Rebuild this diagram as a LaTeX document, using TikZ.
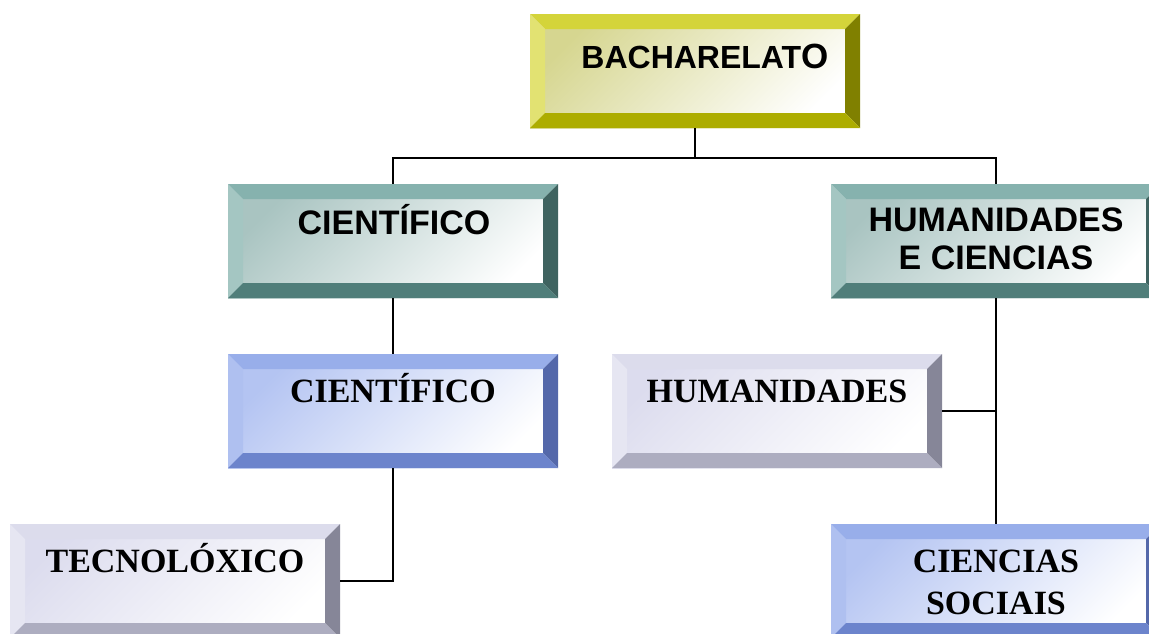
\documentclass[tikz,border=0pt]{standalone}
\usepackage{fontspec}
\setmainfont{Liberation Serif}
\setsansfont{Liberation Sans}
\usetikzlibrary{calc}
\definecolor{yelT}{HTML}{D4D43A}
\definecolor{yelL}{HTML}{E2E272}
\definecolor{yelR}{HTML}{808000}
\definecolor{yelB}{HTML}{ADAD00}
\definecolor{yelI}{HTML}{D6D690}
\definecolor{tealT}{HTML}{86B2AE}
\definecolor{tealL}{HTML}{A4C6C2}
\definecolor{tealR}{HTML}{3F6360}
\definecolor{tealB}{HTML}{507E7A}
\definecolor{tealI}{HTML}{A9C4C1}
\definecolor{bluT}{HTML}{98AEEA}
\definecolor{bluL}{HTML}{AFC0F0}
\definecolor{bluR}{HTML}{5468AA}
\definecolor{bluB}{HTML}{6C84CC}
\definecolor{bluI}{HTML}{B4C4F2}
\definecolor{grayT}{HTML}{DCDCEC}
\definecolor{grayL}{HTML}{E6E6F2}
\definecolor{grayR}{HTML}{868698}
\definecolor{grayB}{HTML}{ADADC0}
\definecolor{grayI}{HTML}{DCDCEE}

\begin{document}
\begin{tikzpicture}[x=1pt,y=-1pt,
    box/.style={minimum width=330pt,minimum height=114pt,inner sep=0pt,outer sep=0pt,
      top color=#1I,bottom color=white,shading angle=45},
    sanstext/.style={font=\sffamily\bfseries\fontsize{34}{38}\selectfont,align=center},
    seriftext/.style={font=\rmfamily\bfseries\fontsize{34}{42}\selectfont,align=center},
    oneline/.style={text height=#1,text depth=0pt},
    line/.style={line width=1.6pt}]
      \useasboundingbox (0,0) rectangle (1149,633);
      \clip (0,0) rectangle (1149,633);

      \node[box=yel] (bach) at (695,71) {};
      \node[box=teal] (cienA) at (393,241) {};
      \node[box=teal] (human) at (996,241) {};
      \node[box=blu] (cienB) at (393,411) {};
      \node[box=gray] (humB) at (777,411) {};
      \node[box=gray] (tecno) at (175,581) {};
      \node[box=blu] (socia) at (996,581) {};

      \foreach \n/\f in {bach/yel,cienA/teal,human/teal,cienB/blu,humB/gray,tecno/gray,socia/blu}{
        \fill[\f T] (\n.north west) -- (\n.north east) -- ($(\n.north east)+(-15,15)$) -- ($(\n.north west)+(15,15)$) -- cycle;
        \fill[\f L] (\n.north west) -- ($(\n.north west)+(15,15)$) -- ($(\n.south west)+(15,-15)$) -- (\n.south west) -- cycle;
        \fill[\f R] (\n.north east) -- (\n.south east) -- ($(\n.south east)+(-15,-15)$) -- ($(\n.north east)+(-15,15)$) -- cycle;
        \fill[\f B] (\n.south west) -- (\n.south east) -- ($(\n.south east)+(-15,-15)$) -- ($(\n.south west)+(15,-15)$) -- cycle;
      }

      \node[sanstext,oneline=23pt,font=\sffamily\bfseries\fontsize{32}{36}\selectfont] (bach-t) at ($(bach.center)+(10,-14)$) {BACHARELAT{\fontsize{35}{36}\selectfont O}};
      \node[sanstext,oneline=24.3pt] (cienA-t) at ($(cienA.center)+(1,-19)$) {CIENTÍFICO};
      \node[sanstext] (human-t) at ($(human.center)+(0,-2)$) {HUMANIDADES\\E CIENCIAS};
      \node[seriftext,oneline=22.5pt] (cienB-t) at ($(cienB.center)+(0,-20)$) {CIENTÍFICO};
      \node[seriftext,oneline=22.5pt] (humB-t) at ($(humB.center)+(0,-20)$) {HUMANIDADES};
      \node[seriftext,oneline=22.5pt] (tecno-t) at ($(tecno.center)+(0,-20)$) {TECNOLÓXICO};
      \node[seriftext] (socia-t) at ($(socia.center)+(0,1)$) {CIENCIAS\\SOCIAIS};

      \coordinate (split) at ($(bach.south)+(0,30)$);
      \draw[line] (bach.south) -- (split);
      \draw[line] (cienA.north) |- (split) -| (human.north);
      \draw[line] (cienA.south) -- (cienB.north);
      \draw[line] (cienB.south) |- (tecno.east);
      \draw[line] (human.south) -- (socia.north);
      \draw[line] (humB.east) -- (humB.east -| human.south);
    \end{tikzpicture}
\end{document}
